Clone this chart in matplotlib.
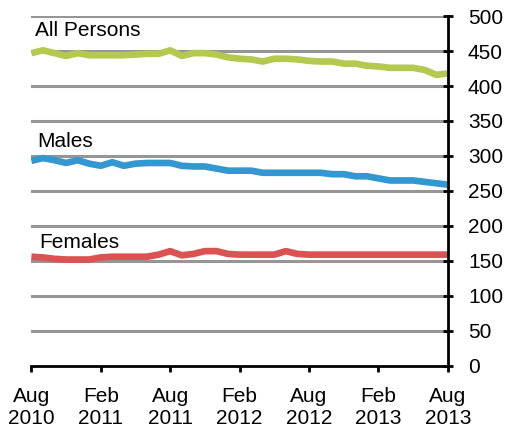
import matplotlib.pyplot as plt
import numpy as np

plt.rcParams['font.family'] = ['Liberation Sans', 'DejaVu Sans']

# monthly values, Aug 2010 .. Aug 2013
all_persons = [447, 451, 447, 443, 447, 444, 444, 444, 444, 445, 446, 446, 451,
               443, 447, 447, 445, 441, 439, 438, 435, 439, 439, 438, 436, 435,
               435, 432, 432, 429, 428, 426, 426, 426, 423, 416, 418]
males = [293, 297, 294, 290, 294, 289, 286, 291, 286, 289, 290, 290, 290,
         286, 285, 285, 282, 279, 279, 279, 276, 276, 276, 276, 276, 276,
         274, 274, 271, 271, 268, 265, 265, 265, 263, 261, 259]
females = [156, 155, 153, 152, 152, 152, 155, 156, 156, 156, 156, 159, 164,
           158, 160, 164, 164, 160, 159, 159, 159, 159, 164, 160, 159, 159,
           159, 159, 159, 159, 159, 159, 159, 159, 159, 159, 159]

tick_labels = ['Aug\n2010', 'Feb\n2011', 'Aug\n2011', 'Feb\n2012',
               'Aug\n2012', 'Feb\n2013', 'Aug\n2013']
series_names = ['All Persons', 'Males', 'Females']
colors = ['#b4c94f', '#3397d1', '#dc5151']

fig = plt.figure(figsize=(5.06, 4.34), dpi=100)
ax = fig.add_axes([0.062, 0.157, 0.823, 0.806])

months = np.arange(len(all_persons))
for vals, c in zip([all_persons, males, females], colors):
    ax.plot(months, vals, color=c, lw=4.8, solid_capstyle='butt', zorder=3)

# series names placed above each line
label_pos = [(0.3, 480), (0.5, 321), (0.7, 177)]
for name, (x, y) in zip(series_names, label_pos):
    ax.text(x, y, name, fontsize=15, va='center', ha='left')

ax.set_xlim(0, 36)
ax.set_ylim(0, 500)
ax.set_yticks(np.arange(0, 501, 50))
ax.set_xticks(np.arange(0, 37, 6))
ax.set_xticklabels(tick_labels)

for v in np.arange(50, 501, 50):
    ax.axhline(v, color='#969696', lw=2.2, zorder=1)

ax.yaxis.tick_right()
for s in ['left', 'top']:
    ax.spines[s].set_visible(False)
for s in ['right', 'bottom']:
    ax.spines[s].set_linewidth(2)
    ax.spines[s].set_color('black')
    ax.spines[s].set_zorder(4)

ax.tick_params(axis='y', direction='inout', length=7, width=2, labelsize=15, pad=11)
ax.tick_params(axis='x', direction='out', length=4, width=2, labelsize=15, pad=11)
for lbl in ax.get_xticklabels():
    lbl.set_linespacing(1.25)

fig.savefig('out.png', dpi=100)
